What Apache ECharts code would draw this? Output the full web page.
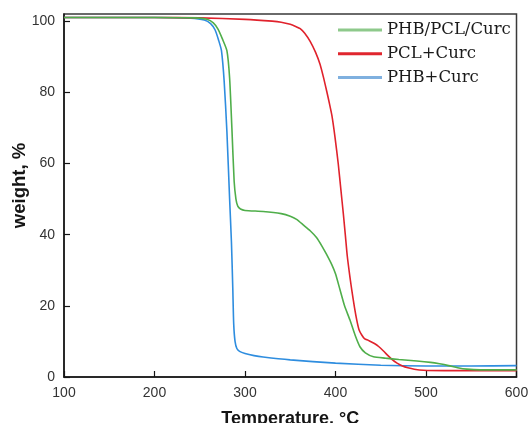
<!DOCTYPE html>
<html>
<head>
<meta charset="utf-8">
<script src="https://cdn.jsdelivr.net/npm/echarts@6/dist/echarts.min.js"></script>
<style>
  html, body { margin: 0; padding: 0; background: #fff; }
  #chart { width: 528px; height: 423px; }
</style>
</head>
<body>
<div id="chart"></div>
<script>
// Thermogravimetric curves: residual weight (%) versus temperature (°C)
const seriesNames = ['PHB/PCL/Curc', 'PCL+Curc', 'PHB+Curc'];

const tempBlend = [100, 200, 245, 258, 265, 270, 275, 280, 283, 285.5, 288, 290, 292, 295, 300, 320, 340, 350, 357, 365, 372, 379, 385, 390, 396, 400, 405, 410, 416, 422, 427, 433, 442, 455, 470, 490, 505, 515, 525, 535, 545, 560, 600];
const weightBlend = [101, 101, 100.9, 100.5, 99.5, 97.8, 95, 91.7, 84, 70, 55, 50, 48, 47.2, 46.8, 46.5, 45.9, 45.2, 44.3, 42.6, 41.1, 39.2, 36.8, 34.5, 31.5, 29, 24.5, 20, 16, 11.5, 8.5, 6.8, 5.7, 5.3, 4.9, 4.5, 4.1, 3.7, 3.2, 2.6, 2.2, 2.0, 2.0];

const tempPcl = [100, 200, 250, 300, 330, 340, 350, 356, 361, 366, 372, 378, 383, 387, 390.3, 393, 396, 399.4, 403, 406, 408.6, 411, 413, 416, 418, 421, 423.5, 426, 429, 432, 437, 443, 448, 453, 458, 463, 468, 474, 480, 487, 497, 520, 600];
const weightPcl = [101, 101, 100.9, 100.5, 100, 99.7, 99.1, 98.5, 97.9, 96.6, 94.3, 91.2, 87.8, 83.9, 80.3, 77.2, 73.5, 67.5, 60, 52.5, 46, 39.5, 34, 28, 24.4, 19.5, 16, 13.3, 11.8, 10.8, 10.2, 9.4, 8.5, 7.3, 6, 4.8, 3.9, 3.1, 2.6, 2.2, 1.9, 1.8, 1.8];

const tempPhb = [100, 150, 200, 240, 255, 262, 267, 271, 274, 277, 280, 283, 285, 286.5, 287.5, 289, 291, 294, 300, 310, 320, 350, 400, 450, 500, 550, 600];
const weightPhb = [101, 101, 101, 100.8, 100.3, 99.3, 97.5, 94.5, 91.7, 83, 69, 50, 38, 25, 15, 10, 8, 7.2, 6.6, 6, 5.6, 4.8, 3.9, 3.3, 3.1, 3.1, 3.2];

const xTicks = [100, 200, 300, 400, 500, 600];
const yTicks = [0, 20, 40, 60, 80, 100];

const lineColors = ['#4fae4a', '#e0222c', '#2e8ddf'];
const legendColors = ['#8ec98b', '#e0262e', '#7fb0df'];

function pairs(xs, ys) {
  return xs.map((x, i) => [x, ys[i]]);
}

const curves = [
  pairs(tempBlend, weightBlend),
  pairs(tempPcl, weightPcl),
  pairs(tempPhb, weightPhb)
];

const chart = echarts.init(document.getElementById('chart'), null, { renderer: 'canvas' });

const axisFont = 'Liberation Sans, Arial, sans-serif';

chart.setOption({
  animation: false,
  backgroundColor: '#ffffff',
  grid: {
    left: 64, right: 11.5, top: 14, bottom: 46,
    outerBoundsMode: 'none',
    containLabel: false,
    show: true, borderColor: '#3a3a3a', borderWidth: 1.5, backgroundColor: 'transparent'
  },
  legend: {
    orient: 'vertical',
    left: 338, top: 20,
    padding: 0,
    itemGap: 3.7,
    itemWidth: 44,
    itemHeight: 3,
    icon: 'rect',
    data: seriesNames.map((n, i) => ({ name: n, itemStyle: { color: legendColors[i] } })),
    textStyle: {
      fontFamily: 'DejaVu Serif, serif',
      fontSize: 16.5,
      lineHeight: 20,
      color: '#1a1a1a'
    }
  },
  xAxis: {
    type: 'value',
    min: xTicks[0], max: xTicks[xTicks.length - 1], interval: 100,
    name: 'Temperature, °C',
    nameLocation: 'middle',
    nameGap: 33,
    nameMoveOverlap: false,
    nameTextStyle: { fontFamily: axisFont, fontWeight: 'bold', fontSize: 18, color: '#151515' },
    axisLine: { lineStyle: { color: '#151515', width: 1.5 } },
    axisTick: { inside: true, length: 6, lineStyle: { color: '#151515', width: 1.2 } },
    axisLabel: {
      margin: 9, fontFamily: axisFont, fontSize: 14, color: '#333',
      formatter: v => xTicks.includes(v) ? String(v) : ''
    },
    splitLine: { show: false }
  },
  yAxis: {
    type: 'value',
    min: 0, max: 102, interval: 20,
    name: 'weight, %',
    nameLocation: 'middle',
    nameRotate: 90,
    nameGap: 35,
    nameMoveOverlap: false,
    nameTextStyle: {
      fontFamily: axisFont, fontWeight: 'bold', fontSize: 18.5, color: '#151515',
      padding: [0, 0, 0, 20]
    },
    axisLine: { lineStyle: { color: '#151515', width: 1.5 } },
    axisTick: { inside: true, length: 6, lineStyle: { color: '#151515', width: 1.2 } },
    axisLabel: {
      margin: 9, fontFamily: axisFont, fontSize: 14, color: '#333',
      showMaxLabel: false,
      formatter: v => yTicks.includes(v) ? String(v) : ''
    },
    splitLine: { show: false }
  },
  series: seriesNames.map((n, i) => ({
    name: n,
    type: 'line',
    data: curves[i],
    smooth: 0.2,
    symbol: 'none',
    showSymbol: false,
    color: lineColors[i],
    lineStyle: { color: lineColors[i], width: 1.6 },
    z: 3 - i
  }))
});
</script>
</body>
</html>
